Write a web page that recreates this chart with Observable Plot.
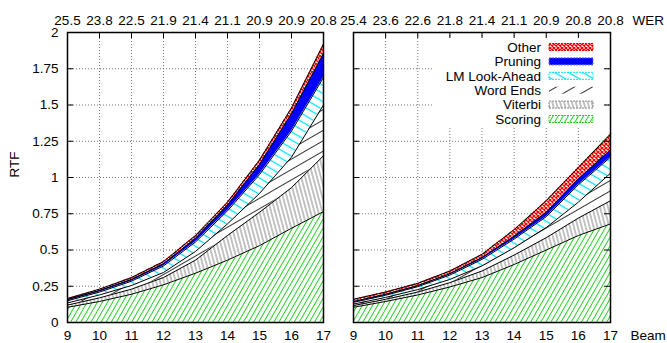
<!DOCTYPE html>
<html>
<head>
<meta charset="utf-8">
<script src="https://cdn.jsdelivr.net/npm/d3@7"></script>
<script src="https://cdn.jsdelivr.net/npm/@observablehq/plot@0.6"></script>
<style>
  body { margin: 0; background: white; }
  #wrap { position: relative; width: 667px; height: 343px; overflow: hidden; }
  #wrap > svg.p { position: absolute; top: 0; }
</style>
</head>
<body>
<svg width="0" height="0" style="position:absolute">
  <defs>
    <pattern id="pOther" width="4" height="4" patternUnits="userSpaceOnUse">
      <rect width="4" height="4" fill="white"/>
      <path d="M0,0L4,4M4,0L0,4" stroke="#ff0000" stroke-width="1.3"/>
    </pattern>
    <pattern id="pPruning" width="4" height="4" patternUnits="userSpaceOnUse">
      <rect width="4" height="4" fill="#0000ff"/>
    </pattern>
    <pattern id="pLM" width="7" height="7" patternUnits="userSpaceOnUse" patternTransform="rotate(-60)">
      <rect width="7" height="7" fill="white"/>
      <line x1="3.5" y1="0" x2="3.5" y2="7" stroke="#00e5ff" stroke-width="1.3"/>
    </pattern>
    <pattern id="pWord" width="9" height="9" patternUnits="userSpaceOnUse" patternTransform="rotate(60)">
      <rect width="9" height="9" fill="white"/>
      <line x1="4.5" y1="0" x2="4.5" y2="9" stroke="#000" stroke-width="0.8"/>
    </pattern>
    <pattern id="pViterbi" width="3.8" height="3.8" patternUnits="userSpaceOnUse" patternTransform="rotate(-15)">
      <rect width="3.8" height="3.8" fill="white"/>
      <line x1="1.9" y1="0" x2="1.9" y2="3.8" stroke="#7a7a7a" stroke-width="0.9"/>
    </pattern>
    <pattern id="pScoring" width="4.4" height="4.4" patternUnits="userSpaceOnUse" patternTransform="rotate(30)">
      <rect width="4.4" height="4.4" fill="white"/>
      <line x1="2.2" y1="0" x2="2.2" y2="4.4" stroke="#22d022" stroke-width="1"/>
    </pattern>
  </defs>
</svg>
<div id="wrap"></div>
<script>
// ---------- data ----------
const beams = [9, 10, 11, 12, 13, 14, 15, 16, 17];
const series = ["Scoring", "Viterbi", "Word Ends", "LM Look-Ahead", "Pruning", "Other"];
const rtfTicks = [0, 0.25, 0.5, 0.75, 1, 1.25, 1.5, 1.75, 2];
const werLeft  = ["25.5", "23.8", "22.5", "21.9", "21.4", "21.1", "20.9", "20.9", "20.8"];
const werRight = ["25.4", "23.6", "22.6", "21.8", "21.4", "21.1", "20.9", "20.8", "20.8"];

// left panel (RTF per component)
const scoringL  = [0.105, 0.145, 0.195, 0.26, 0.34, 0.43, 0.53, 0.65, 0.765];
const viterbiL  = [0.015, 0.025, 0.035, 0.05, 0.09, 0.17, 0.23, 0.28, 0.385];
const wordEndsL = [0.015, 0.02, 0.025, 0.035, 0.06, 0.08, 0.13, 0.21, 0.35];
const lmL       = [0.015, 0.02, 0.03, 0.045, 0.065, 0.09, 0.13, 0.18, 0.19];
const pruningL  = [0.008, 0.01, 0.012, 0.015, 0.025, 0.04, 0.07, 0.12, 0.165];
const otherL    = [0.007, 0.01, 0.013, 0.015, 0.02, 0.02, 0.03, 0.04, 0.065];

// right panel
const scoringR  = [0.105, 0.145, 0.19, 0.245, 0.31, 0.40, 0.50, 0.60, 0.68];
const viterbiR  = [0.012, 0.015, 0.02, 0.03, 0.045, 0.065, 0.085, 0.12, 0.16];
const wordEndsR = [0.01, 0.013, 0.017, 0.022, 0.035, 0.05, 0.07, 0.11, 0.19];
const lmR       = [0.012, 0.015, 0.02, 0.03, 0.045, 0.06, 0.075, 0.12, 0.11];
const pruningR  = [0.005, 0.006, 0.007, 0.01, 0.013, 0.02, 0.03, 0.04, 0.05];
const otherR    = [0.016, 0.016, 0.016, 0.018, 0.022, 0.045, 0.08, 0.08, 0.11];

// ---------- styling ----------
const patterns = ["url(#pScoring)", "url(#pViterbi)", "url(#pWord)", "url(#pLM)", "url(#pPruning)", "url(#pOther)"];
const legendStroke = ["#22d022", "#8a8a8a", "#000000", "#00e5ff", "#6a6aff", "#ff0000"];
const FONT = "'Liberation Sans', Arial, Helvetica, sans-serif";
const FS = 13.5;

function table(cols) {
  const rows = [];
  series.forEach((s, k) => beams.forEach((b, i) => rows.push({beam: b, series: s, value: cols[k][i]})));
  return rows;
}
const leftData = table([scoringL, viterbiL, wordEndsL, lmL, pruningL, otherL]);
const rightData = table([scoringR, viterbiR, wordEndsR, lmR, pruningR, otherR]);

const H = 343, MT = 32, MB = 21;
const innerH = H - MT - MB;

function panel({data, width, ml, mr, wer, left}) {
  const innerW = width - ml - mr;
  const grid = {stroke: "#777", strokeOpacity: 1, strokeDasharray: "1,2", strokeWidth: 1};
  const marks = [
    Plot.gridX(beams, grid),
    Plot.gridY(rtfTicks, grid),
    Plot.tickX(beams, {x: d => d, insetBottom: innerH - 6, stroke: "black", strokeWidth: 1}),
    Plot.tickY(rtfTicks, {y: d => d, insetRight: innerW - 6, stroke: "black", strokeWidth: 1}),
    Plot.tickY(rtfTicks, {y: d => d, insetLeft: innerW - 6, stroke: "black", strokeWidth: 1}),
    Plot.areaY(data, {x: "beam", y: "value", fill: "series", order: series}),
    Plot.lineY(data, Plot.stackY2({x: "beam", y: "value", z: "series", order: series, stroke: "black", strokeWidth: 1})),
    Plot.axisX(beams, {anchor: "bottom", tickSize: 0, tickPadding: 8, label: null, fontSize: FS}),
    Plot.axisX(beams, {anchor: "top", tickSize: 0, tickPadding: 8, label: null, fontSize: FS,
      tickFormat: d => wer[beams.indexOf(d)]}),
  ];
  if (left) {
    marks.push(Plot.axisY(rtfTicks, {anchor: "left", tickSize: 0, tickPadding: 9, label: null, fontSize: FS,
      tickFormat: d => String(d)}));
    marks.push(Plot.text(["RTF"], {frameAnchor: "left", dx: -53, rotate: -90, fontSize: FS, fill: "black"}));
  } else {
    marks.push(Plot.text(["WER"], {frameAnchor: "top-right", dx: 22, dy: -8, textAnchor: "start", lineAnchor: "bottom", fontSize: FS, fill: "black"}));
    marks.push(Plot.text(["Beam"], {frameAnchor: "bottom-right", dx: 20, dy: 8, textAnchor: "start", lineAnchor: "top", fontSize: FS, fill: "black"}));
  }
  marks.push(Plot.frame({stroke: "black", strokeWidth: 1.5}));
  return Plot.plot({
    width, height: H,
    marginLeft: ml, marginRight: mr, marginTop: MT, marginBottom: MB,
    x: {domain: [9, 17], axis: null},
    y: {domain: [0, 2], axis: null},
    color: {domain: series, range: patterns},
    style: {fontFamily: FONT, fontSize: FS + "px", color: "black", background: "transparent", overflow: "visible"},
    marks
  });
}

const wrap = document.getElementById("wrap");
const p1 = panel({data: leftData, width: 338, ml: 67, mr: 15, wer: werLeft, left: true});
const p2 = panel({data: rightData, width: 329, ml: 15, mr: 57, wer: werRight, left: false});
p1.classList.add("p"); p2.classList.add("p");
p1.style.left = "0px"; p2.style.left = "338px";
wrap.appendChild(p1);
wrap.appendChild(p2);

// legend (inside right panel, top-right, opaque box)
const svg2 = d3.select(p2);
const frameEl = svg2.select("[aria-label=frame]").node();
const lg = svg2.insert("g", () => frameEl).attr("font-family", FONT).attr("font-size", FS);
lg.append("rect").attr("x", 94).attr("y", 38).attr("width", 171).attr("height", 89).attr("fill", "white");
const rev = series.map((s, i) => ({s, i})).reverse();
rev.forEach((d, j) => {
  const yc = 47 + j * 14.4;
  lg.append("text").attr("x", 203).attr("y", yc).attr("dy", "0.35em").attr("text-anchor", "end").attr("fill", "black").text(d.s);
  lg.append("rect").attr("x", 211).attr("y", yc - 3.5).attr("width", 44).attr("height", 7)
    .attr("fill", patterns[d.i]).attr("stroke", legendStroke[d.i]).attr("stroke-width", 1)
    .attr("stroke-dasharray", d.s === "Word Ends" ? "none" : "2,1")
    .attr("stroke-opacity", d.s === "Word Ends" ? 0 : 1);
});
// re-draw ticks above the legend box
svg2.selectAll("[aria-label=tick]").each(function() { this.parentNode.appendChild(this); });
svg2.node().appendChild(frameEl);
</script>
</body>
</html>
